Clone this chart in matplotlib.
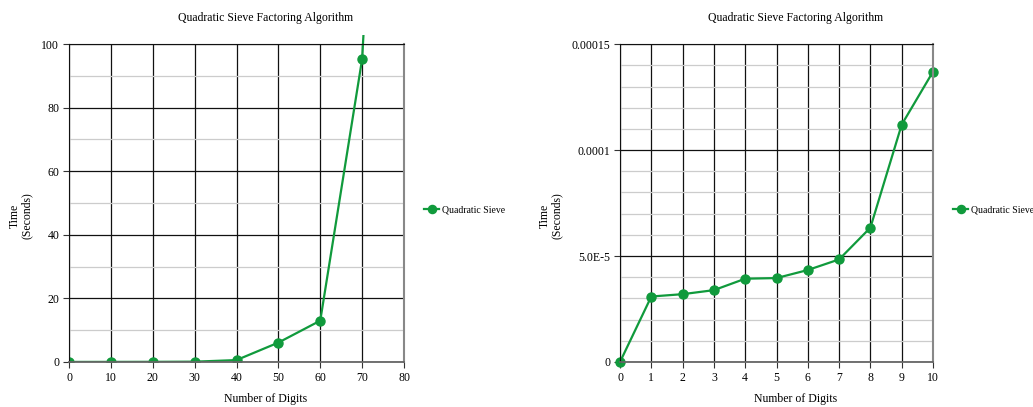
import matplotlib.pyplot as plt
from matplotlib.patches import Rectangle
from matplotlib.ticker import MultipleLocator, FixedLocator, FixedFormatter

plt.rcParams['font.family'] = ['Liberation Serif', 'DejaVu Serif']

# left chart: number of digits vs time (seconds)
digits_a = [0, 10, 20, 30, 40, 50, 60, 70, 80]
time_a = [0.02, 0.03, 0.05, 0.1, 0.6, 6.1, 13.0, 95.3, 335.0]

# right chart: small numbers
digits_b = [0, 1, 2, 3, 4, 5, 6, 7, 8, 9, 10]
time_b = [0.0, 3.09e-5, 3.2e-5, 3.39e-5, 3.93e-5, 3.96e-5, 4.34e-5, 4.84e-5, 6.34e-5, 1.12e-4, 1.37e-4]

title = 'Quadratic Sieve Factoring Algorithm'
series_name = 'Quadratic Sieve'
green = '#109a3c'

fig = plt.figure(figsize=(10.33, 4.07), dpi=100)
ax1 = fig.add_axes([0.0668, 0.1106, 0.3243, 0.781])
ax2 = fig.add_axes([0.6002, 0.1106, 0.3030, 0.781])


def style_axes(ax):
    ax.grid(which='major', color='#111111', linewidth=0.9)
    ax.grid(which='minor', axis='y', color='#cccccc', linewidth=0.9)
    ax.set_axisbelow(True)
    for s in ['top', 'left']:
        ax.spines[s].set_color('#111111')
    ax.spines['right'].set_color('#888888')
    ax.spines['right'].set_linewidth(1.5)
    ax.spines['bottom'].set_color('#666666')
    ax.spines['bottom'].set_linewidth(1.3)
    ax.tick_params(which='major', length=4, width=0.8, labelsize=8.5, color='#333333', pad=3)
    ax.tick_params(which='minor', length=0)


# left
ln1, = ax1.plot(digits_a, time_a, color=green, lw=1.6, marker='o', ms=6.5,
                markerfacecolor=green, markeredgecolor=green, label=series_name)
ax1.set_xlim(0, 80)
ax1.set_ylim(0, 100)
ax1.xaxis.set_major_locator(MultipleLocator(10))
ax1.yaxis.set_major_locator(MultipleLocator(20))
ax1.yaxis.set_minor_locator(MultipleLocator(10))
style_axes(ax1)
clip = Rectangle((0, 0), 80, 103, transform=ax1.transData)
ln1.set_clip_path(clip)

# right
ax2.plot(digits_b, time_b, color=green, lw=1.6, marker='o', ms=6.5,
         markerfacecolor=green, markeredgecolor=green, label=series_name, clip_on=False)
ax2.set_xlim(0, 10)
ax2.set_ylim(0, 0.00015)
ax2.xaxis.set_major_locator(MultipleLocator(1))
ax2.yaxis.set_major_locator(FixedLocator([0, 5e-5, 1e-4, 1.5e-4]))
ax2.yaxis.set_major_formatter(FixedFormatter(['0', '5.0E-5', '0.0001', '0.00015']))
ax2.yaxis.set_minor_locator(MultipleLocator(1e-5))
style_axes(ax2)

# titles, labels
for cx in [266, 796]:
    fig.text(cx / 1033, 1 - 18 / 407, title, ha='center', va='center', fontsize=8.5)
    fig.text(cx / 1033, 1 - 399 / 407, 'Number of Digits', ha='center', va='center', fontsize=8.5)
fig.text(21 / 1033, 1 - 216 / 407, 'Time\n(Seconds)', rotation=90, ha='center', va='center',
         multialignment='center', fontsize=8.5, linespacing=1.0)
fig.text(551 / 1033, 1 - 216 / 407, 'Time\n(Seconds)', rotation=90, ha='center', va='center',
         multialignment='center', fontsize=8.5, linespacing=1.0)

# legends (the right one runs off the edge, as in the original)
for ax, lx in [(ax1, 415), (ax2, 944)]:
    ax.legend(loc='center left', bbox_to_anchor=(lx / 1033, 1 - 210 / 407),
              bbox_transform=fig.transFigure, frameon=False, fontsize=7,
              handlelength=1.6, handletextpad=0.3, markerscale=0.9)

fig.savefig('out.png', dpi=100)
